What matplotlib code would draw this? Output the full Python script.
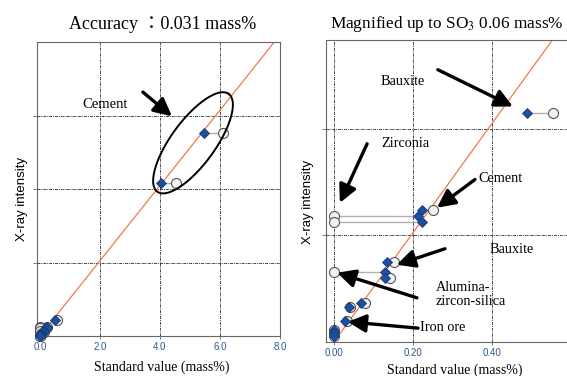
import numpy as np
import matplotlib
matplotlib.use("Agg")
import matplotlib.pyplot as plt

plt.rcParams["mathtext.fontset"] = "stix"

# Measured data: X-ray intensity (y) against standard value for the
# corrected method (diamonds) and the uncorrected one (circles).
x_corrected = [5.47, 4.05, 0.488, 0.224, 0.213, 0.222, 0.135, 0.129, 0.129,
               0.068, 0.039, 0.028, 0.0, 0.0, 0.0]
x_uncorrected = [6.10, 4.53, 0.555, 0.250, 0.0, 0.0, 0.152, 0.0, 0.142,
                 0.078, 0.040, 0.033, 0.0, 0.0, 0.0]
y_intensity = [5.54, 4.18, 0.430, 0.247, 0.236, 0.225, 0.150, 0.132, 0.120,
               0.074, 0.065, 0.039, 0.022, 0.016, 0.011]

line_slope = 1.025

left_xticks = [0.0, 2.0, 4.0, 6.0, 8.0]
left_yticks = [2.0, 4.0, 6.0]
right_xticks = [0.0, 0.2, 0.4]
right_yticks = [0.2, 0.4]

SERIF = ["Liberation Serif", "Noto Sans CJK JP"]
SANS = ["Liberation Sans", "DejaVu Sans"]
TICK_COLOR = "#2d5a8c"
GRID_STYLE = dict(color="#444444", linestyle=(0, (3, 1, 1, 1)), linewidth=0.7)
ARROW = dict(arrowstyle="-|>,head_length=0.9,head_width=0.45", lw=2.4,
             color="black", shrinkA=0, shrinkB=0, mutation_scale=12)


def draw_points(ax, xmax):
    for xc, xu, y in zip(x_corrected, x_uncorrected, y_intensity):
        ax.plot([xc, xu], [y, y], color="#b0b0b0", lw=1.0, zorder=2)
    ax.plot(x_uncorrected, y_intensity, "o", ms=7.2, mfc="#f2f2f2",
            mec="#555555", mew=0.8, zorder=3, clip_on=False)
    ax.plot(x_corrected, y_intensity, "D", ms=5.6, mfc="#1d4f9e",
            mec="#163c7a", mew=0.6, zorder=4, clip_on=False)
    xs = np.array([0.0, xmax])
    ax.plot(xs, line_slope * xs, color="#f07a4c", lw=0.9, zorder=1)


def style_axes(ax, xticks, yticks, fmt):
    ax.set_xticks(xticks)
    ax.set_xticklabels([fmt.format(v) for v in xticks], color=TICK_COLOR,
                       fontsize=7, family=SANS)
    ax.set_yticks(yticks)
    ax.set_yticklabels([])
    ax.tick_params(axis="x", length=2, width=0.6, color="#666666", pad=2)
    ax.tick_params(axis="y", length=3, width=0.6, color="#666666")
    for spine in ax.spines.values():
        spine.set_color("#666666")
        spine.set_linewidth(0.8)
    for x in xticks[1:-1] if len(xticks) > 3 else xticks:
        ax.axvline(x, zorder=0, **GRID_STYLE)
    for y in yticks:
        ax.axhline(y, zorder=0, **GRID_STYLE)


def main() -> None:
    fig = plt.figure(figsize=(5.67, 3.76), dpi=100)

    # Left panel: full range
    ax1 = fig.add_axes([0.065, 0.106, 0.429, 0.782])
    ax1.set_xlim(-0.1, 8.0)
    ax1.set_ylim(0.0, 8.0)
    style_axes(ax1, left_xticks, left_yticks, "{:.1f}")
    draw_points(ax1, 8.0)

    t = np.linspace(0, 2 * np.pi, 200)
    ex = 5.1 + 1.19 * np.cos(t) - 0.59 * np.sin(t)
    ey = 5.26 + 1.33 * np.cos(t) + 0.355 * np.sin(t)
    ax1.plot(ex, ey, color="black", lw=1.4, zorder=5)
    ax1.text(1.43, 6.31, "Cement", family=SERIF, fontsize=10.5, va="center")
    ax1.annotate("", xy=(4.4, 5.98), xytext=(3.43, 6.64), arrowprops=ARROW)

    # Right panel: magnified
    ax2 = fig.add_axes([0.575, 0.0904, 0.448, 0.8036])
    ax2.set_xlim(-0.02, 0.623)
    ax2.set_ylim(0.0, 0.567)
    style_axes(ax2, right_xticks, right_yticks, "{:.2f}")
    draw_points(ax2, 0.7)

    labels = [
        ("Bauxite", 0.175, 0.489, "center"),
        ("Zirconia", 0.180, 0.372, "center"),
        ("Cement", 0.365, 0.306, "left"),
        ("Bauxite", 0.451, 0.173, "center"),
        ("Alumina-\nzircon-silica", 0.258, 0.090, "left"),
        ("Iron ore", 0.218, 0.028, "left"),
    ]
    for text, x, y, ha in labels:
        ax2.text(x, y, text, family=SERIF, fontsize=10.3, ha=ha, va="center",
                 linespacing=1.1)
    arrows = [
        ((0.453, 0.442), (0.263, 0.511)),
        ((0.015, 0.261), (0.084, 0.372)),
        ((0.261, 0.252), (0.357, 0.305)),
        ((0.159, 0.145), (0.281, 0.175)),
        ((0.008, 0.130), (0.210, 0.083)),
        ((0.035, 0.038), (0.213, 0.026)),
    ]
    for tip, start in arrows:
        ax2.annotate("", xy=tip, xytext=start, arrowprops=ARROW)

    # Titles and axis labels
    fig.text(0.286, 0.936, "Accuracy \uff1a0.031 mass%", family=SERIF,
             fontsize=13, ha="center", va="center")
    fig.text(0.788, 0.936, "Magnified up to SO$_3$ 0.06 mass%", family=SERIF,
             fontsize=12.4, ha="center", va="center")
    fig.text(0.286, 0.024, "Standard value (mass%)", family=SERIF,
             fontsize=10, ha="center", va="center")
    fig.text(0.802, 0.016, "Standard value (mass%)", family=SERIF,
             fontsize=10, ha="center", va="center")
    fig.text(0.039, 0.47, "X-ray intensity", family=SANS, fontsize=9.5,
             rotation=90, ha="center", va="center")
    fig.text(0.543, 0.463, "X-ray intensity", family=SANS, fontsize=9.5,
             rotation=90, ha="center", va="center")

    fig.savefig("out.png", dpi=100)


if __name__ == "__main__":
    main()
